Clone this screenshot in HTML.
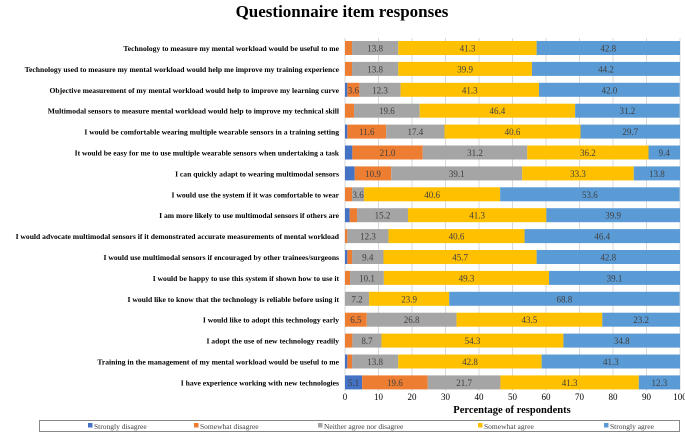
<!DOCTYPE html>
<html><head><meta charset="utf-8"><style>
body{margin:0;background:#fff;width:685px;height:433px;overflow:hidden;font-family:"Liberation Serif",serif}
</style></head><body>
<svg id="c" width="685" height="433" xmlns="http://www.w3.org/2000/svg"></svg>
<script>
const categories=["Technology to measure my mental workload would be useful to me","Technology used to measure my mental workload would help me improve my training experience","Objective measurement of my mental workload would help to improve my learning curve","Multimodal sensors to measure mental workload would help to improve my technical skill","I would be comfortable wearing multiple wearable sensors in a training setting","It would be easy for me to use multiple wearable sensors when undertaking a task","I can quickly adapt to wearing multimodal sensors","I would use the system if it was comfortable to wear","I am more likely to use multimodal sensors if others are","I would advocate multimodal sensors if it demonstrated accurate measurements of mental workload","I would use multimodal sensors if encouraged by other trainees/surgeons","I would be happy to use this system if shown how to use it","I would like to know that the technology is reliable before using it","I would like to adopt this technology early","I adopt the use of new technology readily","Training in the management of my mental workload would be useful to me","I have experience working with new technologies"];
const stronglyDisagree=[0,0,0.7,0,0.7,2.2,2.9,0,1.4,0,0.7,0,0,0,0,0.7,5.1];
const somewhatDisagree=[2.1,2.1,3.6,2.7,11.6,21.0,10.9,2.1,2.2,0.7,1.4,1.5,0,6.5,2.2,1.4,19.6];
const neutral=[13.8,13.8,12.3,19.6,17.4,31.2,39.1,3.6,15.2,12.3,9.4,10.1,7.2,26.8,8.7,13.8,21.7];
const somewhatAgree=[41.3,39.9,41.3,46.4,40.6,36.2,33.3,40.6,41.3,40.6,45.7,49.3,23.9,43.5,54.3,42.8,41.3];
const stronglyAgree=[42.8,44.2,42.0,31.2,29.7,9.4,13.8,53.6,39.9,46.4,42.8,39.1,68.8,23.2,34.8,41.3,12.3];
const seriesNames=["Strongly disagree","Somewhat disagree","Neither agree nor disagree","Somewhat agree","Strongly agree"];
const xTicks=[0,10,20,30,40,50,60,70,80,90,100];
const colors=["#4472C4","#ED7D31","#A5A5A5","#FFC000","#5B9BD5"];
const series=[stronglyDisagree,somewhatDisagree,neutral,somewhatAgree,stronglyAgree];
const svg=document.getElementById('c');const NS="http://www.w3.org/2000/svg";
function mk(t,a,p){const e=document.createElementNS(NS,t);for(const k in a)e.setAttribute(k,a[k]);(p||svg).appendChild(e);return e;}
const x0=345,x1=680,yTop=48,step=20.9,bh=14;
const xs=v=>x0+(x1-x0)*v/100;const ys=i=>yTop+i*step;
let t=mk('text',{x:342,y:17,'text-anchor':'middle','font-size':17,'font-weight':'bold'});t.textContent="Questionnaire item responses";


xTicks.forEach(v=>{const l=mk('line',{x1:xs(v),x2:xs(v),y1:38,y2:391,stroke:'#d9d9d9','stroke-width':1});


const tx=mk('text',{x:xs(v),y:400,'text-anchor':'middle','font-size':9});tx.textContent=v;

});
categories.forEach((c,i)=>{const y=ys(i);
const tl=mk('text',{x:339,y:y+3,'text-anchor':'end','font-size':7.6,'font-weight':'bold'});tl.textContent=c;


let acc=0;series.forEach((s,k)=>{const v=s[i];if(v<=0)return;
const r=mk('rect',{x:xs(acc),y:y-bh/2,width:xs(acc+v)-xs(acc),height:bh,fill:colors[k]});


if(v>=3.5){const vl=mk('text',{x:xs(acc+v/2),y:y+3.5,'text-anchor':'middle','font-size':9,fill:'#404040'});vl.textContent=v.toFixed(1);

}
acc+=v;});});
t=mk('text',{x:512,y:413,'text-anchor':'middle','font-size':10.5,'font-weight':'bold'});t.textContent="Percentage of respondents";


const lb=mk('rect',{x:39.5,y:420.5,width:640,height:11,fill:'#fff',stroke:'#888'});


const lx=[88,194,318,478,604];
seriesNames.forEach((n,k)=>{const g=mk('g',{});


mk('rect',{x:lx[k],y:423,width:4.5,height:4.5,fill:colors[k]},g);
const tt=mk('text',{x:lx[k]+6,y:429,'font-size':7.5,fill:'#404040'},g);tt.textContent=n;});
</script>
</body></html>
